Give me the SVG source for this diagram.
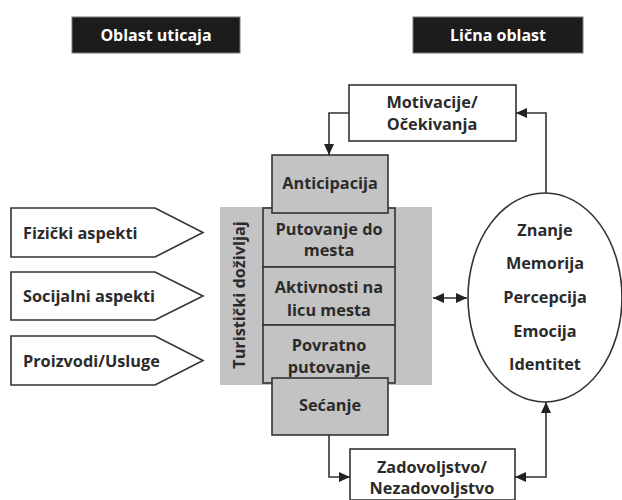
<svg xmlns="http://www.w3.org/2000/svg" width="622" height="500" viewBox="0 0 622 500">
<style>
text{font-family:"Open Sans","Noto Sans","Liberation Sans",sans-serif;font-weight:bold;fill:#2b2b2b;font-size:16.3px}
.c{text-anchor:middle}
.hd{fill:#1c1c1c;stroke:#777;stroke-width:1}
.hdt{fill:#fff;text-anchor:middle;font-size:16px}
.box{fill:#fff;stroke:#333;stroke-width:1.6}
.gbox{fill:#c3c3c3;stroke:#333;stroke-width:1.6}
.con{fill:none;stroke:#333;stroke-width:1.6}
</style>
<defs>
<marker id="ah" markerUnits="userSpaceOnUse" markerWidth="11" markerHeight="10" refX="11" refY="5" orient="auto-start-reverse">
<path d="M0,0 L11,5 L0,10 z" fill="#222"/>
</marker>
</defs>
<g id="hdr-left"><rect class="hd" x="72" y="17" width="168" height="36"/><text class="hdt" x="156" y="41">Oblast uticaja</text></g>
<g id="hdr-right"><rect class="hd" x="413" y="17" width="170" height="36"/><text class="hdt" x="498" y="41">Lična oblast</text></g>
<g id="fizicki"><path class="box" d="M11,208 H155 L203,232.5 L155,257 H11 Z"/><text x="23" y="239">Fizički aspekti</text></g>
<g id="socijalni"><path class="box" d="M11,272 H155 L203,296 L155,320 H11 Z"/><text x="23" y="302">Socijalni aspekti</text></g>
<g id="proizvodi"><path class="box" d="M11,336 H155 L203,360.5 L155,385 H11 Z"/><text x="23" y="367">Proizvodi/Usluge</text></g>
<g id="turisticki"><rect x="220" y="207" width="212" height="178" fill="#c3c3c3"/><text class="c" transform="translate(244.5,295) rotate(-90)" font-size="19.5" fill="#333">Turistički doživljaj</text></g>
<g id="putovanje"><rect class="gbox" x="263" y="208" width="132" height="59"/><text class="c" x="329" y="235">Putovanje do</text><text class="c" x="329" y="256">mesta</text></g>
<g id="aktivnosti"><rect class="gbox" x="263" y="267" width="132" height="58"/><text class="c" x="329" y="293">Aktivnosti na</text><text class="c" x="329" y="316">licu mesta</text></g>
<g id="povratno"><rect class="gbox" x="263" y="325" width="132" height="58"/><text class="c" x="329" y="351">Povratno</text><text class="c" x="329" y="373">putovanje</text></g>
<g id="anticipacija"><rect class="gbox" x="272" y="155" width="116" height="58"/><text class="c" x="330" y="189">Anticipacija</text></g>
<g id="secanje"><rect class="gbox" x="272" y="378" width="116" height="57"/><text class="c" x="330" y="411">Sećanje</text></g>
<g id="motivacije"><rect class="box" x="349" y="85" width="167" height="56"/><text class="c" x="432" y="108">Motivacije/</text><text class="c" x="432" y="130">Očekivanja</text></g>
<g id="zadovoljstvo"><rect class="box" x="350" y="449" width="165" height="51"/><text class="c" x="432" y="473">Zadovoljstvo/</text><text class="c" x="432" y="494">Nezadovoljstvo</text></g>
<g id="licna"><ellipse cx="545" cy="297.5" rx="77" ry="104.5" fill="#fff" stroke="#333" stroke-width="1.6"/>
<text class="c" x="545" y="236">Znanje</text><text class="c" x="545" y="269">Memorija</text><text class="c" x="545" y="303">Percepcija</text><text class="c" x="545" y="337">Emocija</text><text class="c" x="545" y="370">Identitet</text></g>
<g id="connectors">
<path class="con" d="M349,113 H329 V155" marker-end="url(#ah)"/>
<path class="con" d="M546,193 V113 H516" marker-end="url(#ah)"/>
<path class="con" d="M433,298 H467" marker-start="url(#ah)" marker-end="url(#ah)"/>
<path class="con" d="M329,435 V477 H350" marker-end="url(#ah)"/>
<path class="con" d="M515,477 H546 V402" marker-start="url(#ah)" marker-end="url(#ah)"/>
</g>
</svg>
